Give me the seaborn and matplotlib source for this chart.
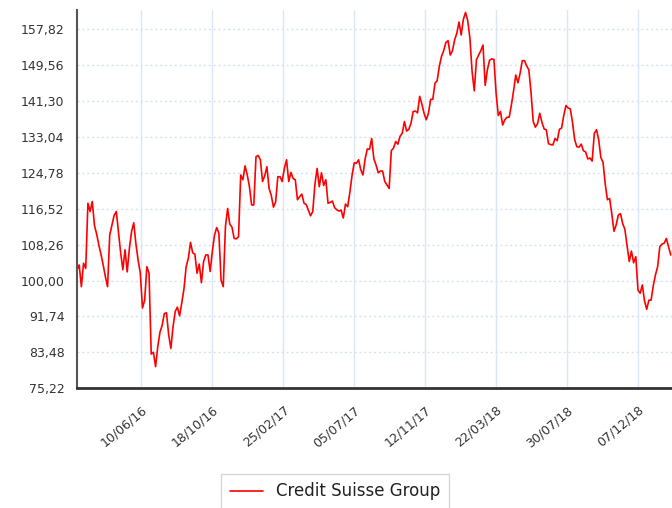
import matplotlib
matplotlib.use("Agg")
import matplotlib.pyplot as plt
import matplotlib.dates as mdates
import pandas as pd
import seaborn as sns

# ---- data ----
series_name = "Credit Suisse Group"
start_date = "2016-02-13"
step = "4D"
prices = [
    102.45, 103.6, 98.6, 104.0, 102.8, 117.8, 115.9, 118.2, 112.7, 110.7,
    108.2, 106.0, 103.6, 100.9, 98.6, 110.5, 112.7, 115.0, 115.9, 111.2,
    106.4, 102.5, 107.1, 102.0, 107.4, 111.3, 113.3, 108.4, 104.7, 101.7,
    93.7, 95.5, 103.2, 101.7, 83.1, 83.5, 80.2, 84.8, 88.1, 89.7,
    92.4, 92.6, 87.5, 84.4, 89.4, 92.9, 93.9, 91.9, 94.9, 98.1,
    103.2, 105.1, 108.8, 106.4, 106.1, 101.7, 103.8, 99.5, 104.4, 105.9,
    105.9, 102.1, 106.7, 110.5, 112.2, 110.9, 100.1, 98.6, 112.4, 116.6,
    113.0, 112.3, 109.7, 109.6, 110.1, 124.3, 123.2, 126.4, 124.3, 121.6,
    117.4, 117.4, 128.5, 128.8, 127.8, 122.8, 124.1, 126.2, 121.2, 119.6,
    116.9, 118.1, 123.9, 123.9, 122.8, 125.8, 127.8, 122.8,
    124.9, 123.5, 123.2, 118.6, 119.3, 119.9, 117.8, 117.5, 116.2, 114.9,
    115.9, 122.2, 125.8, 121.6, 124.8, 121.9, 123.2, 117.8, 118.0, 118.3,
    116.8, 116.3, 116.0, 116.2, 114.4, 117.6, 117.0, 120.3, 124.2, 127.1,
    127.0, 127.8, 125.5, 124.3, 128.0, 130.3, 130.2, 132.7, 128.0, 126.6,
    124.8, 125.2, 125.2, 122.8, 122.0, 121.2, 129.9, 130.5, 132.0, 131.4,
    133.2, 133.9, 136.6, 134.4, 134.8, 136.2, 138.9, 139.0, 138.6, 142.4,
    140.6, 138.5, 137.0, 138.5, 141.7, 141.7, 145.4, 146.0, 149.3, 151.6,
    152.9, 154.8, 155.2, 151.9, 152.9, 155.4, 156.9, 159.5,
    156.5, 160.1, 161.7, 159.8, 155.8, 148.1, 143.65, 150.8, 151.9, 152.9,
    154.2, 144.9, 148.5, 150.7, 151.0, 150.9, 143.1, 138.0, 138.9, 135.8,
    137.0, 137.6, 137.6, 140.4, 143.65, 147.3, 145.5, 147.7, 150.6, 150.6,
    149.4, 148.5, 143.3, 136.6, 135.3, 136.1, 138.5, 136.4, 134.9, 134.7,
    131.5, 131.3, 131.2, 132.7, 132.2, 134.8, 135.1, 138.0, 140.3, 139.7,
    139.5, 136.4, 132.4, 130.8, 130.7, 131.4, 129.9, 129.6, 128.0, 128.2,
    127.5, 133.9, 134.7, 132.4, 128.3, 127.2, 122.2, 118.6, 118.9, 115.4,
    111.35, 112.8, 115.1, 115.4, 113.1, 111.8, 108.0, 104.4, 106.8, 104.1,
    105.5, 97.8, 97.1, 99.0, 95.3, 93.4, 95.5, 95.5, 98.8, 101.3,
    103.2, 107.8, 108.4, 108.6, 109.7, 107.8, 105.9,
]
y_ticks = [75.22, 83.48, 91.74, 100.00, 108.26, 116.52, 124.78,
           133.04, 141.30, 149.56, 157.82]
y_tick_labels = ["75,22", "83,48", "91,74", "100,00", "108,26", "116,52",
                 "124,78", "133,04", "141,30", "149,56", "157,82"]
x_ticks = ["2016-06-10", "2016-10-18", "2017-02-25", "2017-07-05",
           "2017-11-12", "2018-03-22", "2018-07-30", "2018-12-07"]
x_tick_labels = ["10/06/16", "18/10/16", "25/02/17", "05/07/17",
                 "12/11/17", "22/03/18", "30/07/18", "07/12/18"]

df = pd.DataFrame({
    "date": pd.date_range(start_date, periods=len(prices), freq=step),
    "price": prices,
})

# ---- figure ----
sns.set_style("white")
plt.rcParams["font.family"] = ["DejaVu Sans"]
fig = plt.figure(figsize=(6.72, 5.08), dpi=100)
ax = fig.add_axes([77 / 672, 1 - 388.3 / 508, 603 / 672, 378.3 / 508])

sns.lineplot(data=df, x="date", y="price", ax=ax, color="#ff0000",
             linewidth=1.2, label=series_name, legend=False)

ax.set_xlim(pd.Timestamp("2016-02-13"), pd.Timestamp("2019-02-22"))
ax.set_ylim(75.22, 162.26)

ax.set_yticks(y_ticks)
ax.set_yticklabels(y_tick_labels)
ax.set_xticks([pd.Timestamp(d) for d in x_ticks])
ax.set_xticklabels(x_tick_labels, rotation=40, ha="right", va="top",
                   rotation_mode="anchor")

grid_blue = "#dbe7f5"
ax.grid(axis="x", color=grid_blue, linestyle="-", linewidth=1.0)
ax.grid(axis="y", color="#d5e2f0", linestyle=(0, (1.5, 2)), linewidth=1.0)
ax.set_axisbelow(True)

ax.tick_params(axis="y", length=8, color=grid_blue, width=1, pad=1,
               labelsize=9, labelcolor="#333333")
ax.tick_params(axis="x", length=11, color=grid_blue, width=1, pad=0,
               labelsize=9, labelcolor="#333333")

for s in ["top", "right"]:
    ax.spines[s].set_visible(False)
ax.spines["left"].set_color("#555555")
ax.spines["left"].set_linewidth(1.5)
ax.spines["bottom"].set_color("#333333")
ax.spines["bottom"].set_linewidth(2.0)

ax.set_xlabel("")
ax.set_ylabel("")

leg = fig.legend(loc="upper center", bbox_to_anchor=(335 / 672, 1 - 474 / 508),
                 frameon=True, fancybox=False, fontsize=12, handlelength=2.0,
                 borderpad=0.5, borderaxespad=0, edgecolor="#cccccc")
leg.get_frame().set_linewidth(1.0)
for t in leg.get_texts():
    t.set_color("#222222")

fig.savefig("out.png", dpi=100)
